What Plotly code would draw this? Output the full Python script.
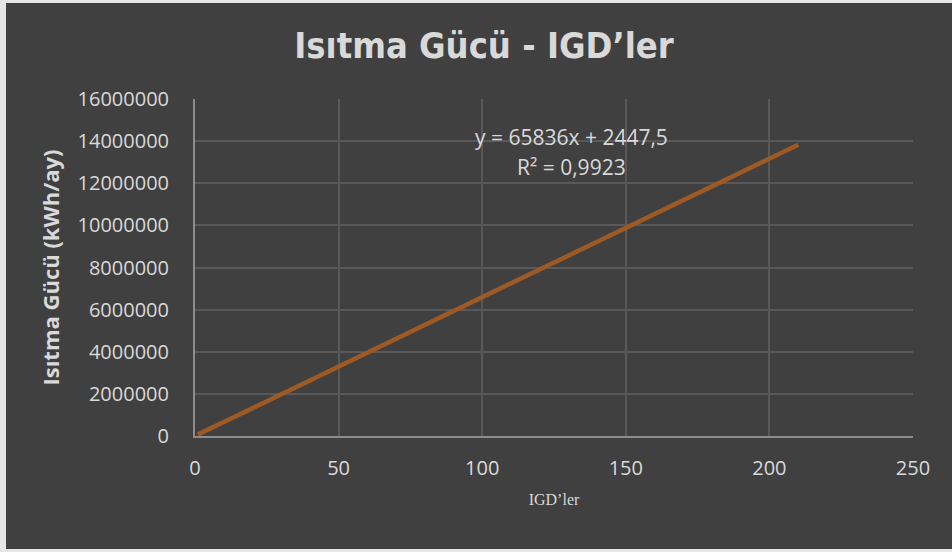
import plotly.graph_objects as go

# Data
igd_count = [1, 25, 50, 75, 100, 125, 150, 175, 200, 210]
heating_power = [70000, 1650000, 3280000, 4940000, 6600000, 8230000, 9880000, 11530000, 13170000, 13830000]

x_ticks = [0, 50, 100, 150, 200, 250]
y_ticks = [0, 2000000, 4000000, 6000000, 8000000, 10000000, 12000000, 14000000, 16000000]

title_text = "Isıtma Gücü - IGD’ler"
y_title = "Isıtma Gücü (kWh/ay)"
x_title = "IGD’ler"
eq_text = "y = 65836x + 2447,5"
r2_text = "R² = 0,9923"

W, H = 952, 552
L, R, T, B = 195, 39, 99, 116
pw, ph = W - L - R, H - T - B

BG = "#404040"
TXT = "#d9d9d9"
GRID = "#595959"

fig = go.Figure()
fig.add_trace(go.Scatter(
    x=igd_count, y=heating_power, mode="lines",
    line=dict(color="#9e5a24", width=4.5),
    hoverinfo="x+y", showlegend=False,
))

# dark chart area framed by light border
fig.add_shape(type="rect", xref="paper", yref="paper",
              x0=(6 - L) / pw, x1=(W + 5 - L) / pw,
              y0=(H - B - 549) / ph, y1=(H - B - 3) / ph,
              fillcolor=BG, line=dict(width=0), layer="below")

fig.add_annotation(x=131, y=14200000, xref="x", yref="y", text=eq_text,
                   showarrow=False, font=dict(family="Open Sans", size=21, color=TXT))
fig.add_annotation(x=131, y=12780000, xref="x", yref="y", text=r2_text,
                   showarrow=False, font=dict(family="Open Sans", size=21, color=TXT))

fig.update_layout(
    width=W, height=H,
    margin=dict(l=L, r=R, t=T, b=B),
    paper_bgcolor="#e6e6e6",
    plot_bgcolor=BG,
    title=dict(text=f"<b>{title_text}</b>", x=(484) / W, xanchor="center",
               y=1 - 45 / H, yanchor="middle",
               font=dict(family="DejaVu Sans Condensed, Liberation Sans Narrow", size=36, color=TXT)),
    xaxis=dict(
        range=[0, 250], tickvals=x_ticks, ticktext=[str(v) for v in x_ticks],
        showgrid=True, gridcolor=GRID, gridwidth=1.5,
        showline=True, linecolor="#8c8c8c", linewidth=2, mirror=False,
        zeroline=False, ticks="", ticklabelstandoff=13,
        tickfont=dict(family="Open Sans", size=20, color=TXT),
        title=dict(text=x_title, standoff=14,
                   font=dict(family="Liberation Serif, DejaVu Serif", size=16, color=TXT)),
        fixedrange=True,
    ),
    yaxis=dict(
        range=[0, 16000000], tickvals=y_ticks, ticktext=[str(v) for v in y_ticks],
        showgrid=True, gridcolor=GRID, gridwidth=1.5,
        showline=True, linecolor="#8c8c8c", linewidth=2,
        zeroline=False, ticks="", ticklabelstandoff=20,
        tickfont=dict(family="Open Sans", size=20, color=TXT),
        title=dict(text=f"<b>{y_title}</b>", standoff=12,
                   font=dict(family="Open Sans", size=22, color=TXT)),
        fixedrange=True,
    ),
)

fig.write_html("out.html", config={"displayModeBar": False},
               post_script="document.body.style.margin='0';")
